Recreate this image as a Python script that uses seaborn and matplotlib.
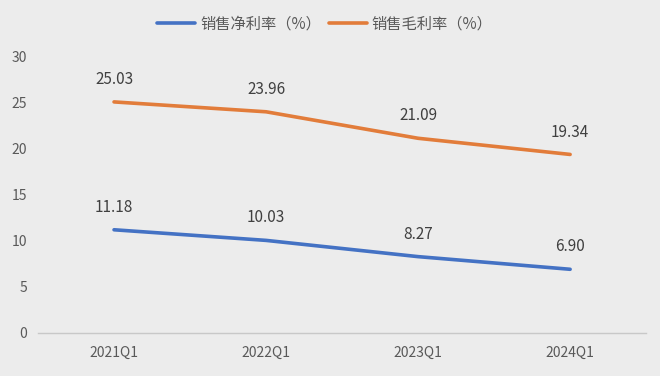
import matplotlib
matplotlib.use("Agg")
import matplotlib.pyplot as plt
import seaborn as sns
import pandas as pd

categories = ["2021Q1", "2022Q1", "2023Q1", "2024Q1"]
net_margin = [11.18, 10.03, 8.27, 6.90]
gross_margin = [25.03, 23.96, 21.09, 19.34]
series_names = ["销售净利率（%）", "销售毛利率（%）"]
yticks = [0, 5, 10, 15, 20, 25, 30]

sns.set_theme(style="white")
plt.rcParams['font.family'] = ['Noto Sans CJK SC', 'DejaVu Sans']

bg = "#ececec"
fig = plt.figure(figsize=(6.6, 3.76), dpi=100, facecolor=bg)
ax = fig.add_axes([0.0576, 0.1144, 0.9214, 0.7366])
ax.set_facecolor(bg)

df = pd.DataFrame({
    "cat": categories * 2,
    "val": net_margin + gross_margin,
    "series": [series_names[0]] * 4 + [series_names[1]] * 4,
})
df["x"] = list(range(4)) * 2
colors = {series_names[0]: "#4472C4", series_names[1]: "#E27C3A"}
sns.lineplot(data=df, x="x", y="val", hue="series", palette=colors,
             linewidth=2.6, ax=ax, sort=False, legend=True)

for vals in (net_margin, gross_margin):
    for i, v in enumerate(vals):
        ax.annotate(f"{v:.2f}", (i, v), xytext=(0, 10), textcoords="offset points",
                    ha="center", va="bottom", fontsize=11, color="#404040")

ax.set_xlim(-0.5, 3.5)
ax.set_ylim(0, 30)
ax.set_xticks(range(4))
ax.set_xticklabels(categories)
ax.set_yticks(yticks)
ax.tick_params(axis="both", length=0, labelsize=10, colors="#595959")
ax.tick_params(axis="x", pad=9)
ax.tick_params(axis="y", pad=8)
ax.set_xlabel("")
ax.set_ylabel("")
for s in ("top", "right", "left"):
    ax.spines[s].set_visible(False)
ax.spines["bottom"].set_color("#c8c8c8")
ax.spines["bottom"].set_linewidth(1)

handles, labels = ax.get_legend_handles_labels()
ax.get_legend().remove()
fig.legend(handles, labels, loc="center", bbox_to_anchor=(0.492, 0.936), ncol=2,
           frameon=False, fontsize=11, handlelength=2.5, columnspacing=0.5,
           handletextpad=0.3, labelcolor="#595959")

fig.savefig("out.png", dpi=100, facecolor=bg)
